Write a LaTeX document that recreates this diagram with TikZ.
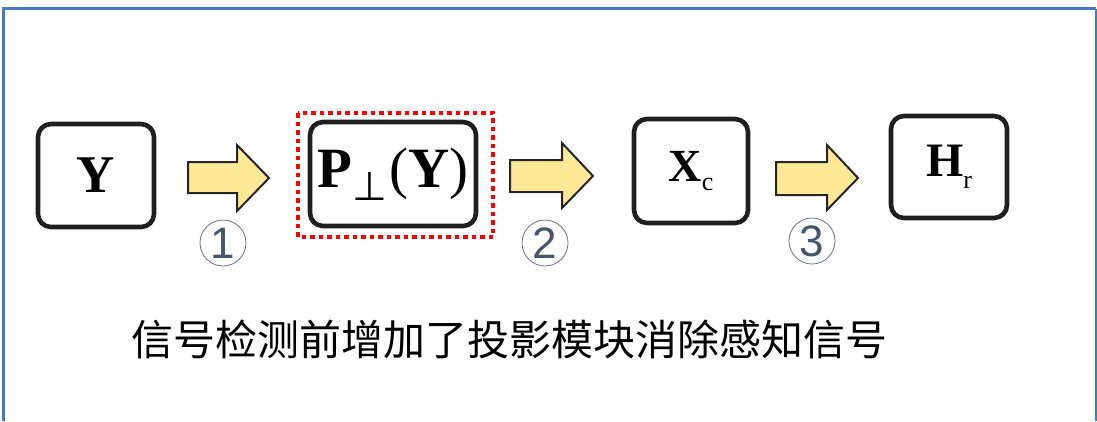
\documentclass[tikz,border=0pt]{standalone}
\usepackage{fontspec}
\setmainfont{Liberation Serif}
\newfontfamily\cjk{Noto Sans CJK SC}
\newfontfamily\numfont{Liberation Sans}
\newfontfamily\symfnt{DejaVu Sans}
\begin{document}
\begin{tikzpicture}[x=1pt,y=-1pt,
  blk/.style={draw=black!88, line width=4.6pt, rounded corners=13pt, fill=white, inner sep=0pt},
  bigarrow/.style={draw=black!85, line width=2pt, fill={rgb,255:red,255;green,232;blue,150}, line join=miter},
  circnum/.style={circle, draw={rgb,255:red,100;green,115;blue,140}, line width=0.8pt, minimum size=46pt, inner sep=0pt, text={rgb,255:red,70;green,85;blue,110}, font=\numfont\fontsize{44}{44}\selectfont},
  frame/.style={draw={rgb,255:red,72;green,118;blue,200}}
]
\useasboundingbox (0,0) rectangle (1097,421);
% frame
\draw[frame, line width=3.5pt] (3.5,421) -- (3.5,8.5) -- (1096,8.5);
\draw[frame, line width=1.2pt] (1096,8.5) -- (1096,421);

% boxes
\node[blk, minimum width=116pt, minimum height=103pt, font=\fontsize{53}{53}\selectfont\bfseries] (Y) at (96,175.5) {Y};
\draw[red, line width=4.5pt, dash pattern=on 4.5pt off 4pt] (298,113) rectangle (493,237);
\node[blk, minimum width=166pt, minimum height=104pt] (P) at (393,174) {\fontsize{57}{57}\selectfont\bfseries P\kern1pt\raisebox{-13pt}{\symfnt\mdseries\fontsize{40}{40}\selectfont ⊥}\kern2pt\mdseries(\bfseries Y\mdseries)};
\node[blk, minimum width=114pt, minimum height=104pt] (X) at (691,171) {\fontsize{46}{46}\selectfont\bfseries X\raisebox{-0.4ex}{\fontsize{26}{26}\selectfont\mdseries c}};
\node[blk, minimum width=116pt, minimum height=102pt] (H) at (949,167) {\fontsize{48}{48}\selectfont\bfseries H\raisebox{-0.55ex}{\fontsize{26}{26}\selectfont\mdseries r}};

% block arrows
\draw[bigarrow] (188,162) -- (237,162) -- (237,145) -- (269,178) -- (237,211) -- (237,193) -- (188,193) -- cycle;
\draw[bigarrow] (510,160) -- (562,160) -- (562,143) -- (593,176) -- (562,208) -- (562,192) -- (510,192) -- cycle;
\draw[bigarrow] (776,162) -- (827,162) -- (827,145) -- (858,178) -- (827,210) -- (827,195) -- (776,195) -- cycle;

% circled numbers
\node[circnum] (n1) at (223,243) {1};
\node[circnum] (n2) at (545,243) {2};
\node[circnum] (n3) at (812,241) {3};

% caption
\node[font=\cjk\fontsize{42}{42}\selectfont, inner sep=0pt] (cap) at (509,339) {信号检测前增加了投影模块消除感知信号};
\end{tikzpicture}
\end{document}
